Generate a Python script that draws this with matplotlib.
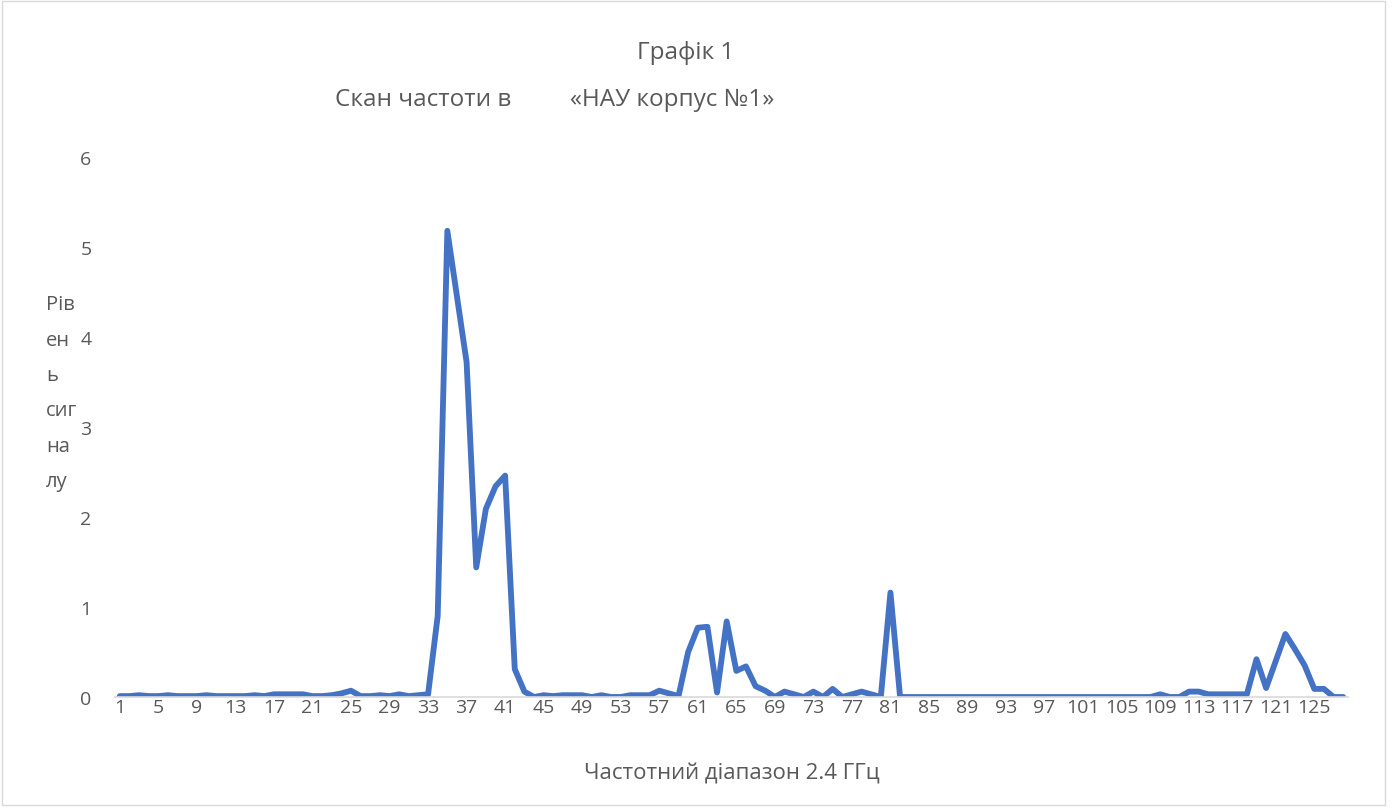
import matplotlib
matplotlib.use("Agg")
import matplotlib.pyplot as plt
from matplotlib.patches import Rectangle

plt.rcParams['font.family'] = ['Open Sans', 'DejaVu Sans']

# канали 1..128 та рівень сигналу
channels = list(range(1, 129))
level = [
    0.01, 0.01, 0.02, 0.01, 0.01, 0.02, 0.01, 0.01, 0.01, 0.02,
    0.01, 0.01, 0.01, 0.01, 0.02, 0.01, 0.03, 0.03, 0.03, 0.03,
    0.01, 0.01, 0.02, 0.04, 0.07, 0.01, 0.01, 0.02, 0.01, 0.03,
    0.01, 0.02, 0.03, 0.90, 5.18, 4.45, 3.72, 1.44, 2.09, 2.34,
    2.46, 0.31, 0.06, 0.00, 0.02, 0.01, 0.02, 0.02, 0.02, 0.00,
    0.02, 0.00, 0.00, 0.02, 0.02, 0.02, 0.07, 0.04, 0.01, 0.50,
    0.77, 0.78, 0.05, 0.84, 0.29, 0.34, 0.12, 0.07, 0.00, 0.06,
    0.03, 0.00, 0.06, 0.00, 0.09, 0.00, 0.03, 0.06, 0.03, 0.00,
    1.16, 0.00, 0.00, 0.00, 0.00, 0.00, 0.00, 0.00, 0.00, 0.00,
    0.00, 0.00, 0.00, 0.00, 0.00, 0.00, 0.00, 0.00, 0.00, 0.00,
    0.00, 0.00, 0.00, 0.00, 0.00, 0.00, 0.00, 0.00, 0.03, 0.00,
    0.00, 0.06, 0.06, 0.03, 0.03, 0.03, 0.03, 0.03, 0.42, 0.10,
    0.40, 0.70, 0.53, 0.35, 0.09, 0.09, 0.00, 0.00,
]
xtick_labels = list(range(1, 129, 4))
yticks = [0, 1, 2, 3, 4, 5, 6]

fig = plt.figure(figsize=(13.95, 8.12), dpi=100)
ax = fig.add_axes([115 / 1395, 1 - 698 / 812, (1348 - 115) / 1395, (698 - 158) / 812])

ax.plot(channels, level, color='#4472C4', linewidth=4.2,
        solid_joinstyle='round', solid_capstyle='round')

ax.set_xlim(0.5, 128.5)
ax.set_ylim(0, 6)
ax.set_xticks(xtick_labels)
ax.set_xticklabels([str(v) for v in xtick_labels])
ax.set_yticks(yticks)
ax.tick_params(axis='both', length=0, labelsize=14, colors='#595959')
ax.tick_params(axis='y', pad=17)
ax.tick_params(axis='x', pad=1)

for s in ['top', 'right', 'left']:
    ax.spines[s].set_visible(False)
ax.spines['bottom'].set_color('#d9d9d9')
ax.spines['bottom'].set_linewidth(1.2)

ax.set_xlabel('Частотний діапазон 2.4 ГГц', fontsize=16, color='#595959', labelpad=33)

fig.text(686 / 1395, 1 - 53 / 812, 'Графік 1', ha='center', va='center',
         fontsize=17.5, color='#595959')
fig.text(335 / 1395, 1 - 100 / 812, 'Скан частоти в', ha='left', va='center',
         fontsize=17.5, color='#595959')
fig.text(570 / 1395, 1 - 100 / 812, '«НАУ корпус №1»', ha='left', va='center',
         fontsize=17.5, color='#595959')

ylabel_parts = ['Рів', 'ен', 'ь', 'сиг', 'на', 'лу']
for k, part in enumerate(ylabel_parts):
    fig.text(46 / 1395, 1 - (305 + k * 35.5) / 812, part, ha='left', va='center',
             fontsize=14.5, color='#595959')

fig.patches.append(Rectangle((2 / 1395, 6 / 812), 1383 / 1395, 804 / 812,
                             transform=fig.transFigure, fill=False,
                             edgecolor='#d9d9d9', linewidth=1))

fig.savefig('out.png', dpi=100)
